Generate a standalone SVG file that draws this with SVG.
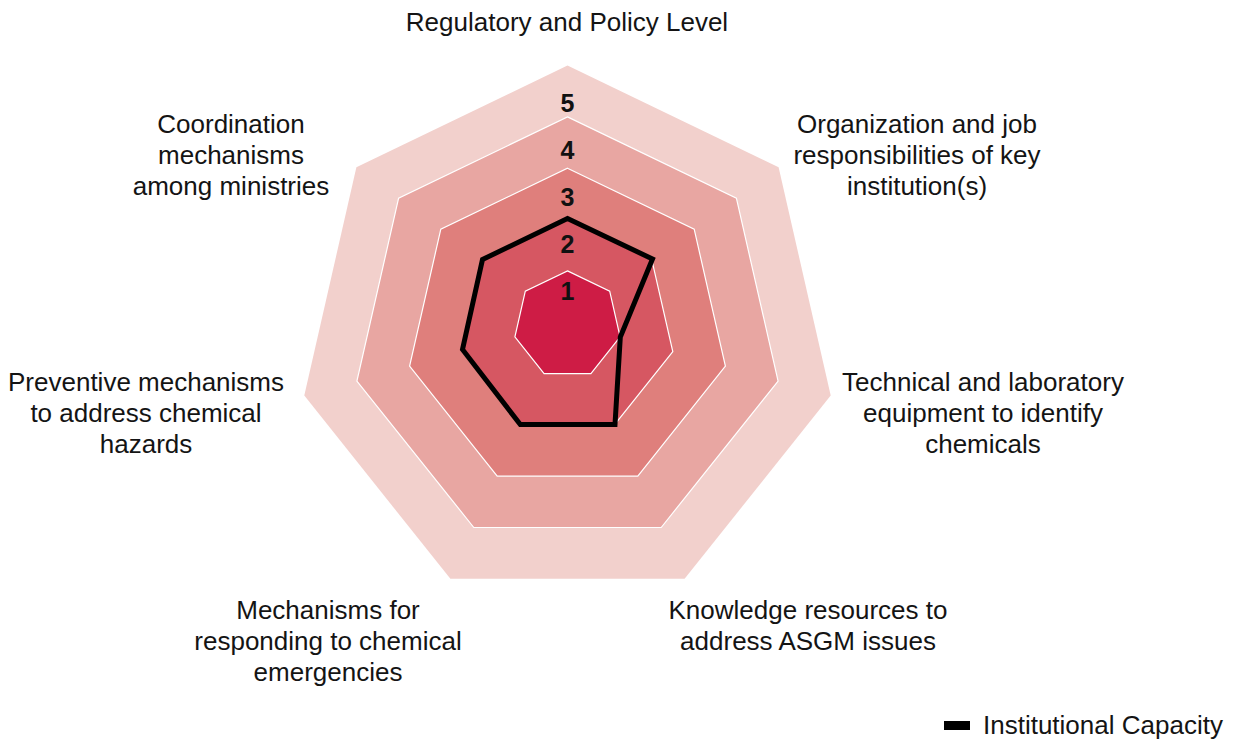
<svg xmlns="http://www.w3.org/2000/svg" width="1244" height="742" viewBox="0 0 1244 742">
<style>
.lbl{font-family:"Liberation Sans",Arial,sans-serif;font-size:26px;fill:#141414;text-anchor:middle}
.num{font-family:"Liberation Sans",Arial,sans-serif;font-size:25px;font-weight:bold;fill:#111;text-anchor:middle}
.ring{stroke:#ffffff;stroke-width:1.2;stroke-linejoin:miter}
.data{fill:none;stroke:#000;stroke-width:5;stroke-linejoin:miter}
</style>
<rect width="1244" height="742" fill="#ffffff"/>
<g id="rings">
<polygon id="ring5" class="ring" fill="#f2d0cc" stroke="none" points="567.5,65.5 778.6,167.2 830.7,395.6 684.6,578.8 450.4,578.8 304.3,395.6 356.4,167.2" style="stroke:none"/>
<polygon id="ring4" class="ring" fill="#e8a6a2" points="567.5,116.9 736.4,198.2 778.1,381 661.2,527.5 473.8,527.5 356.9,381 398.6,198.2"/>
<polygon id="ring3" class="ring" fill="#df7f7c" points="567.5,168.2 694.2,229.2 725.4,366.2 637.8,476.2 497.2,476.2 409.6,366.2 440.8,229.2"/>
<polygon id="ring2" class="ring" fill="#d65762" points="567.5,219.5 651.9,260.2 672.8,351.5 614.4,424.8 520.6,424.8 462.2,351.5 483.1,260.2"/>
<polygon id="ring1" class="ring" fill="#ce1c45" points="567.5,270.9 609.7,291.2 620.1,336.9 590.9,373.6 544.1,373.6 514.9,336.9 525.3,291.2"/>
</g>
<g id="scale">
<text class="num" x="567.5" y="112">5</text>
<text class="num" x="567.5" y="159">4</text>
<text class="num" x="567.5" y="206">3</text>
<text class="num" x="567.5" y="253">2</text>
<text class="num" x="567.5" y="300">1</text>
</g>
<g id="connectors">
<polygon id="institutional-capacity" class="data" points="567.5,218.5 652.5,259 620.3,337 615,424.5 520.3,424.5 462.5,349.5 482.5,259.5"/>
</g>
<g id="label-regulatory">
<text class="lbl" x="567" y="31">Regulatory and Policy Level</text>
</g>
<g id="label-organization">
<text class="lbl" x="917" y="133">Organization and job</text>
<text class="lbl" x="917" y="164">responsibilities of key</text>
<text class="lbl" x="917" y="195">institution(s)</text>
</g>
<g id="label-technical">
<text class="lbl" x="983" y="391">Technical and laboratory</text>
<text class="lbl" x="983" y="422">equipment to identify</text>
<text class="lbl" x="983" y="453">chemicals</text>
</g>
<g id="label-knowledge">
<text class="lbl" x="808" y="619">Knowledge resources to</text>
<text class="lbl" x="808" y="650">address ASGM issues</text>
</g>
<g id="label-mechanisms">
<text class="lbl" x="328" y="619">Mechanisms for</text>
<text class="lbl" x="328" y="650">responding to chemical</text>
<text class="lbl" x="328" y="681">emergencies</text>
</g>
<g id="label-preventive">
<text class="lbl" x="146" y="391">Preventive mechanisms</text>
<text class="lbl" x="146" y="422">to address chemical</text>
<text class="lbl" x="146" y="453">hazards</text>
</g>
<g id="label-coordination">
<text class="lbl" x="231" y="133">Coordination</text>
<text class="lbl" x="231" y="164">mechanisms</text>
<text class="lbl" x="231" y="195">among ministries</text>
</g>
<g id="legend">
<rect x="944" y="721" width="26" height="9" fill="#000"/>
<text class="lbl" x="983" y="734" style="text-anchor:start">Institutional Capacity</text>
</g>
</svg>
